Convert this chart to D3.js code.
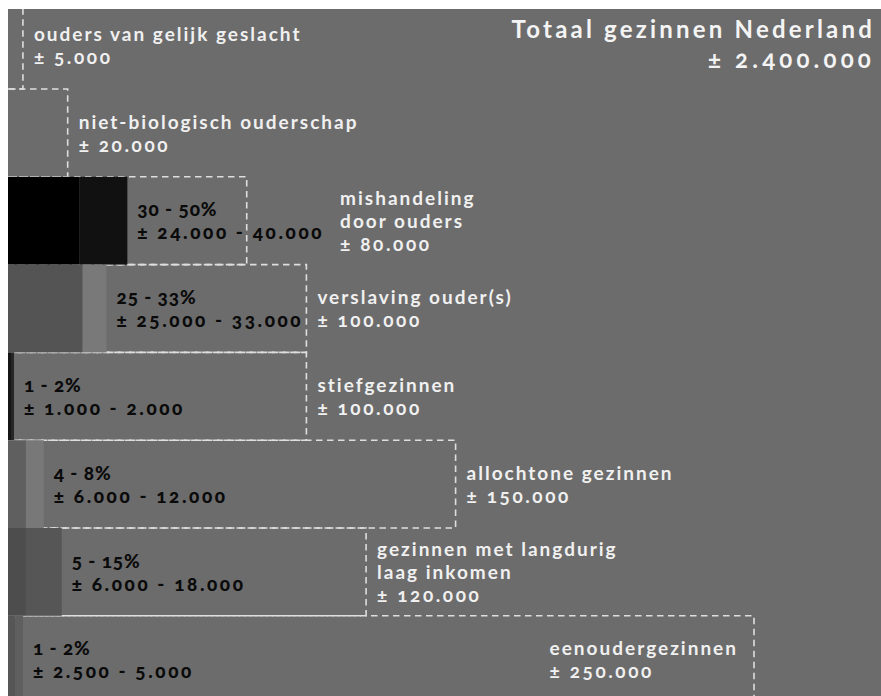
<!DOCTYPE html>
<html>
<head>
<meta charset="utf-8">
<script src="https://cdn.jsdelivr.net/npm/d3@7"></script>
<style>
  html, body { margin: 0; padding: 0; background: #fff; }
  svg text { font-family: "Lato", "Open Sans", sans-serif; font-variant-numeric: oldstyle-nums; font-feature-settings: "onum" 1; }
</style>
</head>
<body>
<svg id="chart" width="881" height="696"></svg>
<script>
// ---- data ----
const categories = [
  "ouders van gelijk geslacht",
  "niet-biologisch ouderschap",
  "mishandeling door ouders",
  "verslaving ouder(s)",
  "stiefgezinnen",
  "allochtone gezinnen",
  "gezinnen met langdurig laag inkomen",
  "eenoudergezinnen"
];
const categoryLines = [
  ["ouders van gelijk geslacht"],
  ["niet-biologisch ouderschap"],
  ["mishandeling", "door ouders"],
  ["verslaving ouder(s)"],
  ["stiefgezinnen"],
  ["allochtone gezinnen"],
  ["gezinnen met langdurig", "laag inkomen"],
  ["eenoudergezinnen"]
];
const totals = [5000, 20000, 80000, 100000, 100000, 150000, 120000, 250000];
const pctLabels = [null, null, "30 - 50%", "25 - 33%", "1 - 2%", "4 - 8%", "5 - 15%", "1 - 2%"];
const lowValues = [null, null, 24000, 25000, 1000, 6000, 6000, 2500];
const highValues = [null, null, 40000, 33000, 2000, 12000, 18000, 5000];
const titleText = "Totaal gezinnen Nederland";
const titleTotal = 2400000;

// ---- styles ----
const lowColors  = [null, null, "#000000", "#545454", "#161616", "#5f5f5f", "#4d4d4d", "#565656"];
const highColors = [null, null, "#111111", "#797979", "#262626", "#787878", "#565656", "#5f5f5f"];
const bg = "#6c6c6c";

const nl = d3.formatLocale({decimal: ",", thousands: ".", grouping: [3], currency: ["€", ""]});
const fmt = nl.format(",d");

const W = 881, H = 696;
const svg = d3.select("#chart");
svg.append("rect").attr("width", W).attr("height", H).attr("fill", "#fff");
svg.append("clipPath").attr("id", "clip").append("rect")
  .attr("x", 8).attr("y", 9).attr("width", W - 8).attr("height", H - 9);
const g = svg.append("g").attr("clip-path", "url(#clip)");
g.append("rect").attr("x", 8).attr("y", 9).attr("width", W - 8).attr("height", H - 9).attr("fill", bg);

const x = d3.scaleLinear().domain([0, 250000]).range([8, 754]);
const rowH = 87.8;
const y = d3.scaleBand().domain(categories).range([1.2, 1.2 + rowH * categories.length]).padding(0);

const rows = categories.map((c, i) => ({
  c, i, total: totals[i], lines: categoryLines[i], pct: pctLabels[i],
  lo: lowValues[i], hi: highValues[i]
}));

// dashed outlines
const dash = g.append("g").attr("fill", "none").attr("stroke", "#dedede")
  .attr("stroke-width", 1.6).attr("stroke-dasharray", "6.5,4.5");
rows.forEach(d => {
  const y0 = y(d.c), y1 = y0 + y.bandwidth(), xr = x(d.total);
  dash.append("path").attr("d", `M${x(0)},${y0}H${xr}V${y1}H${x(0)}`);
});

// bars
rows.filter(d => d.lo != null).forEach(d => {
  const y0 = y(d.c), h = y.bandwidth();
  g.append("rect").attr("x", x(0)).attr("y", y0).attr("width", x(d.lo) - x(0)).attr("height", h).attr("fill", lowColors[d.i]);
  g.append("rect").attr("x", x(d.lo)).attr("y", y0).attr("width", x(d.hi) - x(d.lo)).attr("height", h).attr("fill", highColors[d.i]);
});

const lh = 23, fs = 19;
const lsText = 2.0, lsNum = 2.6, lsPct = 0.9;
function baseY(d, n) { return y(d.c) + y.bandwidth() / 2 - (n - 1) * lh / 2 + 7.2; }

// black range labels
const blackEnds = {};
rows.filter(d => d.pct != null).forEach(d => {
  const lx = x(d.hi) + 10;
  const t = g.append("text").attr("y", baseY(d, 2))
    .attr("fill", "#0a0a0a").attr("font-weight", 900).attr("font-size", fs);
  t.append("tspan").attr("x", lx).attr("letter-spacing", lsPct).text(d.pct);
  t.append("tspan").attr("x", lx).attr("dy", lh).attr("letter-spacing", lsNum)
    .text("± " + fmt(d.lo) + " - " + fmt(d.hi));
  blackEnds[d.i] = lx + t.node().getBBox().width;
});

// white category labels
rows.forEach(d => {
  const t = g.append("text").attr("fill", "#f0f0f0").attr("font-weight", 700).attr("font-size", fs)
    .attr("y", baseY(d, d.lines.length + 1));
  d.lines.forEach((l, k) => t.append("tspan").attr("x", 0).attr("dy", k ? lh : 0).attr("letter-spacing", lsText).text(l));
  t.append("tspan").attr("x", 0).attr("dy", lh).attr("letter-spacing", lsNum).text("± " + fmt(d.total));
  const bw = t.node().getBBox().width;
  let lx = x(d.total) + 11;
  if (blackEnds[d.i] != null && blackEnds[d.i] + 8 > lx) lx = blackEnds[d.i] + 16;
  if (lx + bw > W - 6) lx = x(d.total) - 16 - bw;
  t.selectAll("tspan").attr("x", lx);
});

// title
const tt = g.append("text").attr("text-anchor", "end").attr("fill", "#f4f4f4").attr("font-weight", 700).attr("font-size", 24);
tt.append("tspan").attr("x", 875).attr("y", 38).attr("letter-spacing", 3.2).text(titleText);
tt.append("tspan").attr("x", 875).attr("y", 68).attr("letter-spacing", 4.2).text("± " + fmt(titleTotal));
</script>
</body>
</html>
